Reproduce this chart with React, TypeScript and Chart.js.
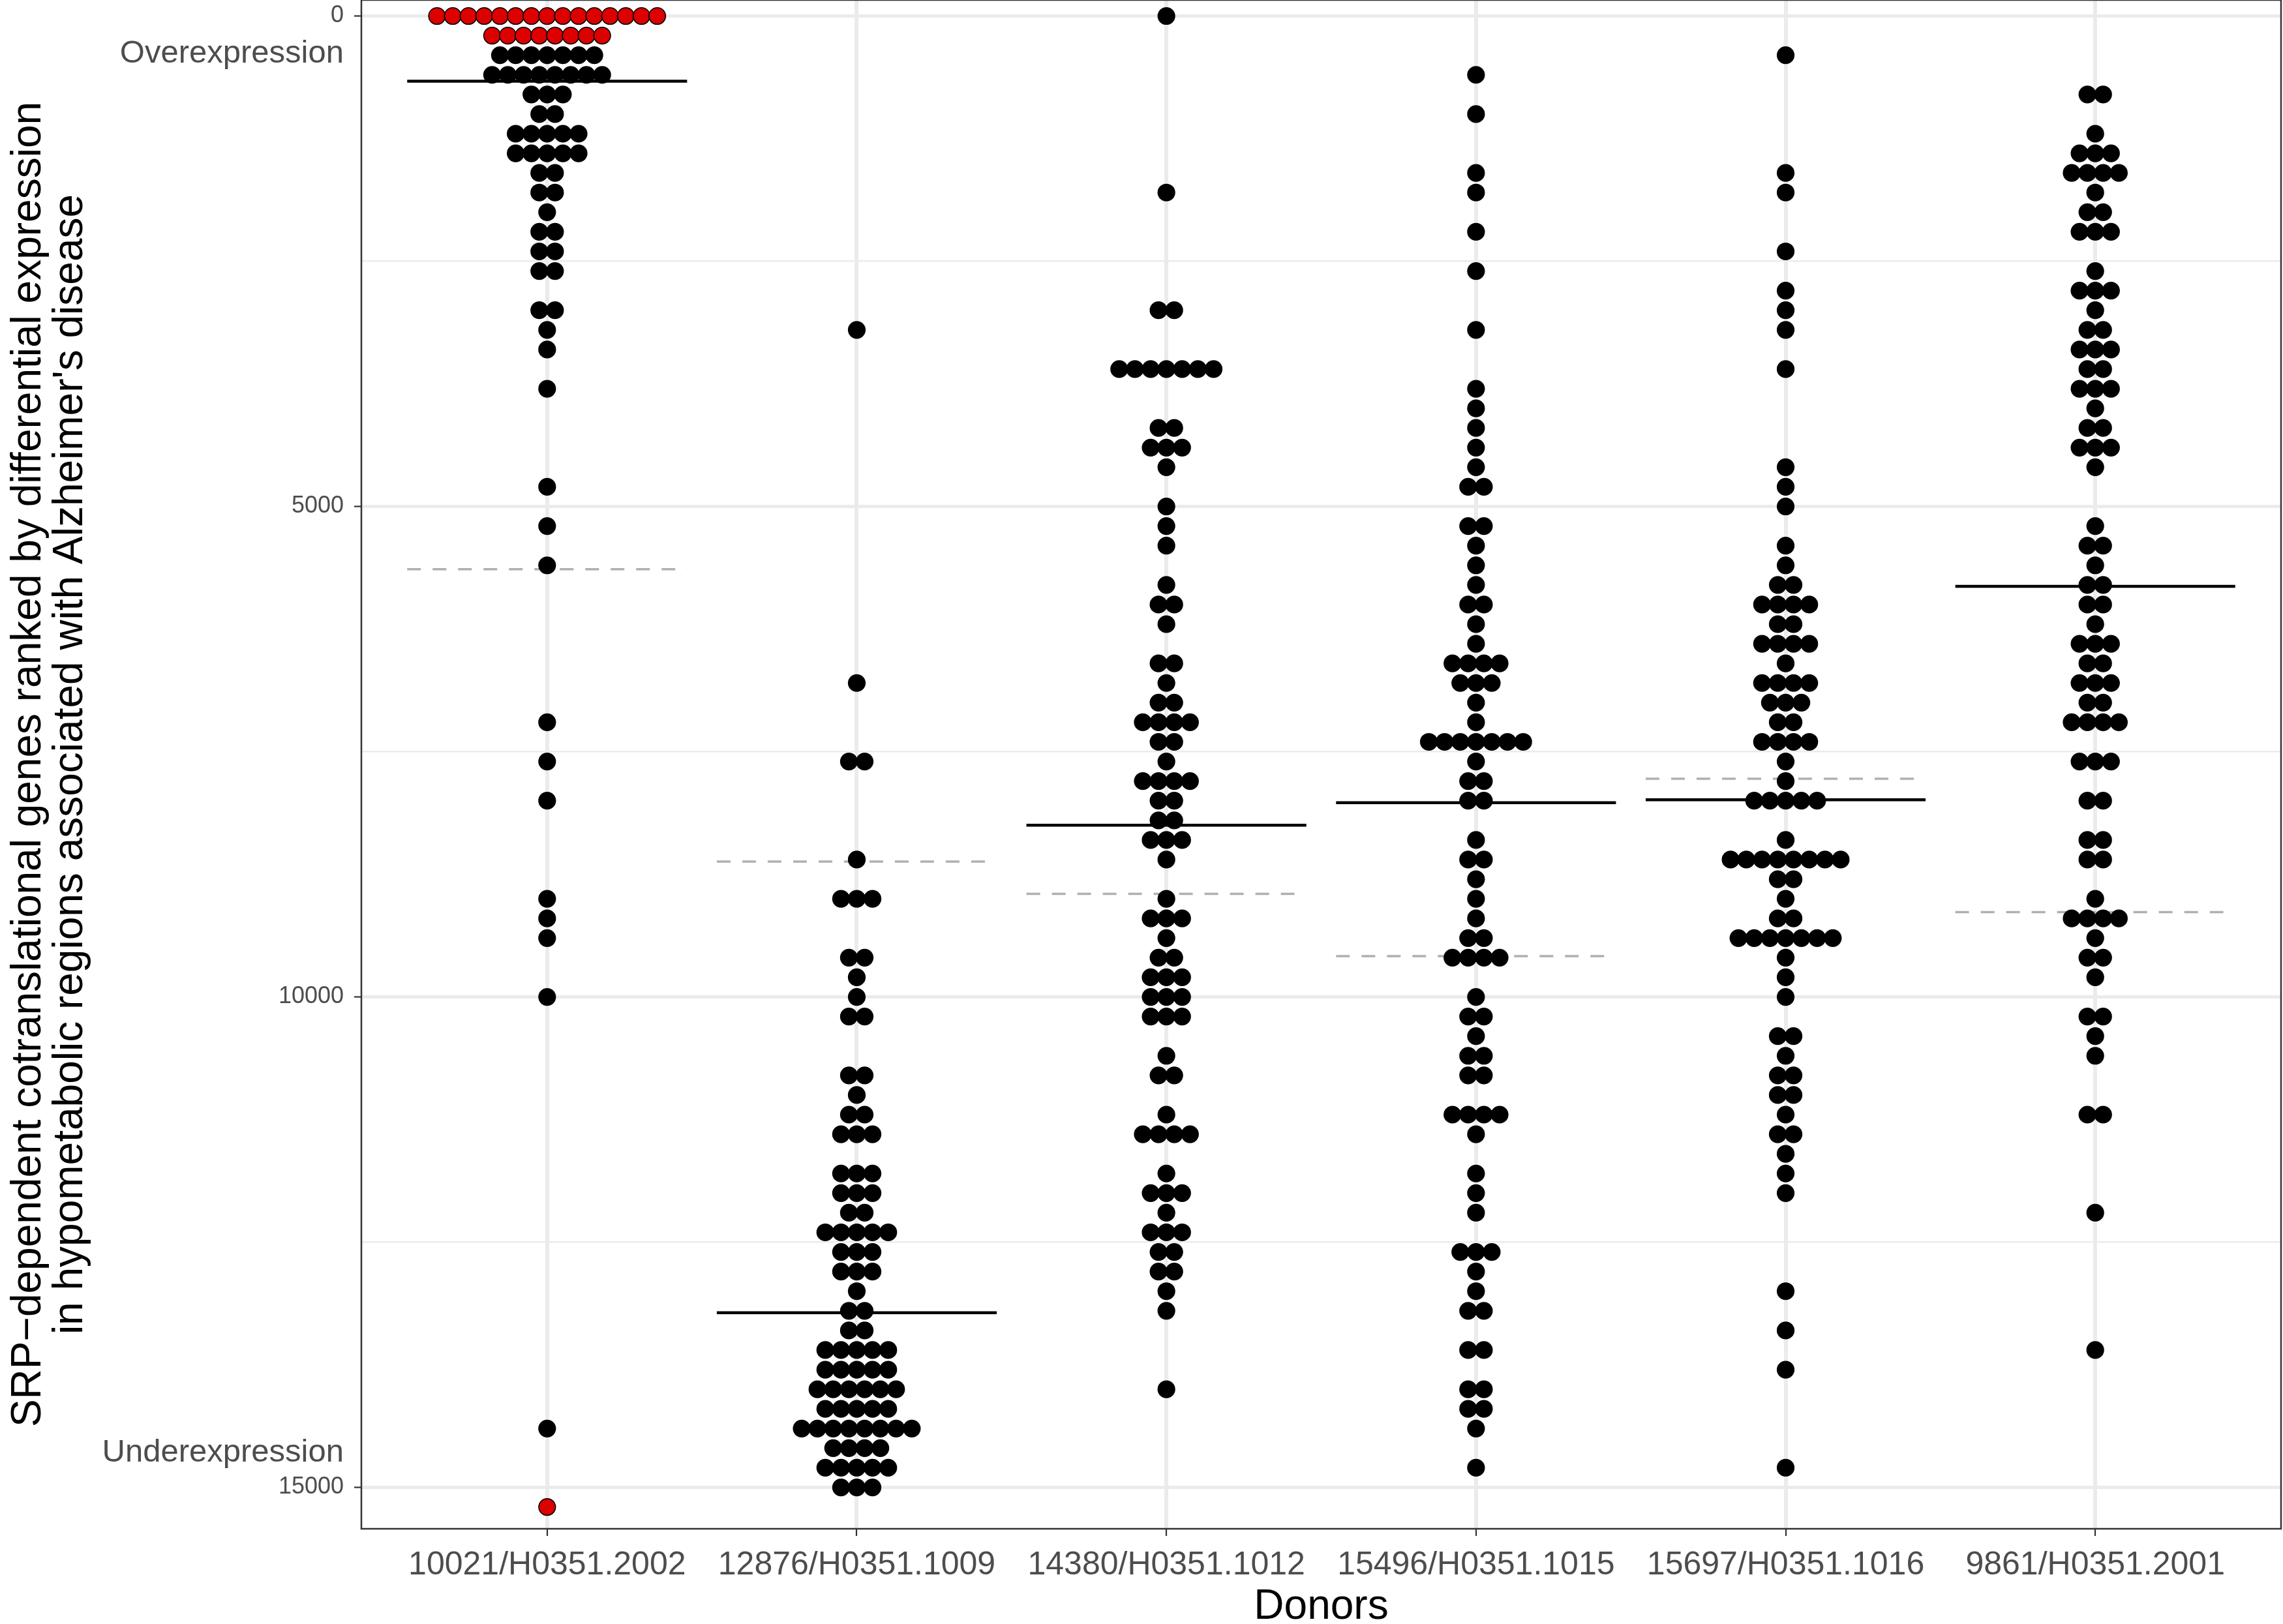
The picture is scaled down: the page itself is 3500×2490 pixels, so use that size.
import { useEffect, useRef } from "react";
import { Chart, registerables } from "chart.js";

Chart.register(...registerables);

// ---------------- data ----------------
const donors = [
  "10021/H0351.2002",
  "12876/H0351.1009",
  "14380/H0351.1012",
  "15496/H0351.1015",
  "15697/H0351.1016",
  "9861/H0351.2001",
];

// binned ranks (dot rows) and number of genes in each row, per donor
const ranks1 = [400, 600, 800, 1000, 1200, 1400, 1600, 1800, 2000, 2200, 2400, 2600, 3000, 3200, 3400, 3800, 4800, 5200, 5600, 7200, 7600, 8000, 9000, 9200, 9400, 10000, 14400];
const counts1 = [7, 8, 3, 2, 5, 5, 2, 2, 1, 2, 2, 2, 2, 1, 1, 1, 1, 1, 1, 1, 1, 1, 1, 1, 1, 1, 1];
// highlighted (red) genes of donor 1
const redRanks1 = [0, 200, 15200];
const redCounts1 = [15, 8, 1];

const ranks2 = [3200, 6800, 7600, 8600, 9000, 9600, 9800, 10000, 10200, 10800, 11000, 11200, 11400, 11800, 12000, 12200, 12400, 12600, 12800, 13000, 13200, 13400, 13600, 13800, 14000, 14200, 14400, 14600, 14800, 15000];
const counts2 = [1, 1, 2, 1, 3, 2, 1, 1, 2, 2, 1, 2, 3, 3, 3, 2, 5, 3, 3, 1, 2, 2, 5, 5, 6, 5, 8, 4, 5, 3];

const ranks3 = [0, 1800, 3000, 3600, 4200, 4400, 4600, 5000, 5200, 5400, 5800, 6000, 6200, 6600, 6800, 7000, 7200, 7400, 7600, 7800, 8000, 8200, 8400, 8600, 9000, 9200, 9400, 9600, 9800, 10000, 10200, 10600, 10800, 11200, 11400, 11800, 12000, 12200, 12400, 12600, 12800, 13000, 13200, 14000];
const counts3 = [1, 1, 2, 7, 2, 3, 1, 1, 1, 1, 1, 2, 1, 2, 1, 2, 4, 2, 1, 4, 2, 2, 3, 1, 1, 3, 1, 2, 3, 3, 3, 1, 2, 1, 4, 1, 3, 1, 3, 2, 2, 1, 1, 1];

const ranks4 = [600, 1000, 1600, 1800, 2200, 2600, 3200, 3800, 4000, 4200, 4400, 4600, 4800, 5200, 5400, 5600, 5800, 6000, 6200, 6400, 6600, 6800, 7000, 7200, 7400, 7600, 7800, 8000, 8400, 8600, 8800, 9000, 9200, 9400, 9600, 10000, 10200, 10400, 10600, 10800, 11200, 11400, 11800, 12000, 12200, 12600, 12800, 13000, 13200, 13600, 14000, 14200, 14400, 14800];
const counts4 = [1, 1, 1, 1, 1, 1, 1, 1, 1, 1, 1, 1, 2, 2, 1, 1, 1, 2, 1, 1, 4, 3, 1, 1, 7, 1, 2, 2, 1, 2, 1, 1, 1, 2, 4, 1, 2, 1, 2, 2, 4, 1, 1, 1, 1, 3, 1, 1, 2, 2, 2, 2, 1, 1];

const ranks5 = [400, 1600, 1800, 2400, 2800, 3000, 3200, 3600, 4600, 4800, 5000, 5400, 5600, 5800, 6000, 6200, 6400, 6600, 6800, 7000, 7200, 7400, 7600, 7800, 8000, 8400, 8600, 8800, 9000, 9200, 9400, 9600, 9800, 10000, 10400, 10600, 10800, 11000, 11200, 11400, 11600, 11800, 12000, 13000, 13400, 13800, 14800];
const counts5 = [1, 1, 1, 1, 1, 1, 1, 1, 1, 1, 1, 1, 1, 2, 4, 2, 4, 1, 4, 3, 2, 4, 1, 1, 5, 1, 8, 2, 1, 2, 7, 1, 1, 1, 2, 1, 2, 2, 1, 2, 1, 1, 1, 1, 1, 1, 1];

const ranks6 = [800, 1200, 1400, 1600, 1800, 2000, 2200, 2600, 2800, 3000, 3200, 3400, 3600, 3800, 4000, 4200, 4400, 4600, 5200, 5400, 5600, 5800, 6000, 6200, 6400, 6600, 6800, 7000, 7200, 7600, 8000, 8400, 8600, 9000, 9200, 9400, 9600, 9800, 10200, 10400, 10600, 11200, 12200, 13600];
const counts6 = [2, 1, 3, 4, 1, 2, 3, 1, 3, 1, 2, 3, 2, 3, 1, 2, 3, 1, 1, 2, 1, 2, 2, 1, 3, 2, 3, 2, 4, 3, 2, 2, 2, 1, 4, 1, 2, 1, 2, 1, 1, 2, 1, 1];

// solid black reference line and dashed grey reference line per donor
const medianRanks = [665, 13220, 8250, 8020, 7990, 5815];
const meanRanks = [5640, 8620, 8950, 9585, 7775, 9135];

const yMajorTicks = [0, 5000, 10000, 15000];
const yAllGridTicks = [0, 2500, 5000, 7500, 10000, 12500, 15000];

const yTitle = [
  "SRP\u2212dependent cotranslational genes ranked by differential expression",
  "in hypometabolic regions associated with Alzheimer's disease",
];
const xTitle = "Donors";
const topNote = "Overexpression";
const bottomNote = "Underexpression";

// ---------------- styling ----------------
const FONT = "'Liberation Sans', Arial, Helvetica, sans-serif";
const DOT_STEP = 0.0508; // horizontal spacing of stacked dots (category units)
const LINE_HALF = 0.452; // half-width of the reference lines (category units)
const DOT_RADIUS = 12.8;
const RED = "#DC0000";

const blackRankSets = [ranks1, ranks2, ranks3, ranks4, ranks5, ranks6];
const blackCountSets = [counts1, counts2, counts3, counts4, counts5, counts6];

function expandDots(donorIndex: number, ranks: number[], counts: number[]) {
  const pts: { x: number; y: number }[] = [];
  ranks.forEach((r, k) => {
    const n = counts[k];
    for (let j = 0; j < n; j++) {
      pts.push({ x: donorIndex + (j - (n - 1) / 2) * DOT_STEP, y: r });
    }
  });
  return pts;
}

const panelPlugin = {
  id: "panelExtras",
  afterDraw(chart: any) {
    const { ctx, chartArea, scales } = chart;
    ctx.save();
    // annotations beside the y axis
    ctx.font = `49px ${FONT}`;
    ctx.fillStyle = "#4D4D4D";
    ctx.textAlign = "right";
    ctx.textBaseline = "middle";
    const tx = chartArea.left - 11 - 16;
    ctx.fillText(topNote, tx, scales.y.getPixelForValue(386));
    ctx.fillText(bottomNote, tx, scales.y.getPixelForValue(14648));
    // panel border
    ctx.strokeStyle = "#333333";
    ctx.lineWidth = 2.5;
    ctx.strokeRect(
      chartArea.left,
      chartArea.top,
      chartArea.right - chartArea.left,
      chartArea.bottom - chartArea.top
    );
    ctx.restore();
  },
};

export default function App() {
  const canvasRef = useRef<HTMLCanvasElement | null>(null);

  useEffect(() => {
    document.body.style.margin = "0";
    const canvas = canvasRef.current;
    if (!canvas) return;

    const datasets: any[] = [];
    // dots first so they are drawn on top of the reference lines
    datasets.push({
      label: "highlighted",
      data: expandDots(0, redRanks1, redCounts1),
      backgroundColor: RED,
      borderColor: "#000000",
      borderWidth: 1.6,
      pointRadius: DOT_RADIUS,
      pointHoverRadius: DOT_RADIUS,
    });
    blackRankSets.forEach((ranks, i) => {
      datasets.push({
        label: donors[i],
        data: expandDots(i, ranks, blackCountSets[i]),
        backgroundColor: "#000000",
        borderColor: "#000000",
        borderWidth: 1.6,
        pointRadius: DOT_RADIUS,
        pointHoverRadius: DOT_RADIUS,
      });
    });
    medianRanks.forEach((m, i) => {
      datasets.push({
        label: "median " + donors[i],
        data: [
          { x: i - LINE_HALF, y: m },
          { x: i + LINE_HALF, y: m },
        ],
        showLine: true,
        borderColor: "#000000",
        borderWidth: 4.5,
        pointRadius: 0,
        borderCapStyle: "butt",
      });
    });
    meanRanks.forEach((m, i) => {
      datasets.push({
        label: "mean " + donors[i],
        data: [
          { x: i - LINE_HALF, y: m },
          { x: i + LINE_HALF, y: m },
        ],
        showLine: true,
        borderColor: "#B0B0B0",
        borderWidth: 3.5,
        borderDash: [21, 18],
        pointRadius: 0,
        borderCapStyle: "butt",
      });
    });

    const chart = new Chart(canvas, {
      type: "scatter",
      data: { datasets },
      plugins: [panelPlugin],
      options: {
        animation: false,
        responsive: false,
        devicePixelRatio: 1,
        layout: { autoPadding: false, padding: { left: 0, right: 3, top: 0, bottom: 0 } },
        plugins: { legend: { display: false }, tooltip: { enabled: false } },
        scales: {
          x: {
            type: "linear",
            min: -0.6,
            max: 5.6,
            afterBuildTicks: (s: any) => {
              s.ticks = donors.map((_, i) => ({ value: i }));
            },
            afterFit: (s: any) => {
              s.height = 146;
              s.paddingLeft = 0;
              s.paddingRight = 0;
            },
            ticks: {
              callback: (v: any) => donors[Math.round(Number(v))] ?? "",
              font: { family: FONT, size: 50 },
              color: "#4D4D4D",
              padding: 15,
              maxRotation: 0,
              minRotation: 0,
              autoSkip: false,
            },
            grid: {
              color: "#EBEBEB",
              lineWidth: 6,
              tickLength: 11,
              tickColor: "#333333",
              tickWidth: 2.2,
            },
            border: { display: false },
            title: {
              display: true,
              text: xTitle,
              color: "#000000",
              font: { family: FONT, size: 64, lineHeight: 0.8 },
              padding: 0,
            },
          },
          y: {
            type: "linear",
            reverse: true,
            min: -163,
            max: 15422,
            afterBuildTicks: (s: any) => {
              s.ticks = yAllGridTicks.map((v) => ({ value: v }));
            },
            afterFit: (s: any) => {
              s.width = 554;
              s.paddingTop = 0;
              s.paddingBottom = 0;
            },
            ticks: {
              callback: (v: any) => (yMajorTicks.includes(Number(v)) ? String(v) : ""),
              font: { family: FONT, size: 36 },
              color: "#4D4D4D",
              padding: 16,
              autoSkip: false,
            },
            grid: {
              color: "#EBEBEB",
              lineWidth: (c: any) => (c.tick && yMajorTicks.includes(c.tick.value) ? 5 : 2.5),
              tickLength: 11,
              tickColor: (c: any) =>
                c.tick && yMajorTicks.includes(c.tick.value) ? "#333333" : "rgba(0,0,0,0)",
              tickWidth: 2.2,
            },
            border: { display: false },
            title: {
              display: true,
              text: yTitle,
              color: "#000000",
              font: { family: FONT, size: 64, lineHeight: 1.0 },
              padding: { top: 12, bottom: 0 },
            },
          },
        },
      } as any,
    });

    return () => chart.destroy();
  }, []);

  return (
    <div
      style={{
        position: "absolute",
        left: 0,
        top: 0,
        width: 3500,
        height: 2490,
        background: "#ffffff",
      }}
    >
      <canvas
        ref={canvasRef}
        width={3500}
        height={2490}
        style={{ width: 3500, height: 2490, display: "block" }}
      />
    </div>
  );
}
